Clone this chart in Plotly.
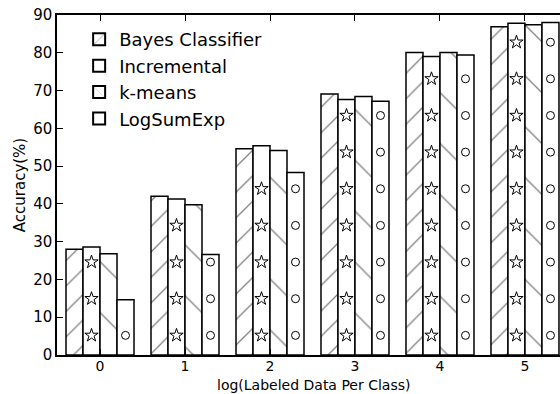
import numpy as np
import plotly.graph_objects as go

categories = [0, 1, 2, 3, 4, 5]
series_names = ["Bayes Classifier", "Incremental", "k-means", "LogSumExp"]
bayes = [28.0, 42.0, 54.6, 69.1, 80.1, 86.9]
incremental = [28.6, 41.3, 55.4, 67.6, 79.0, 87.8]
kmeans = [26.8, 39.8, 54.1, 68.4, 80.1, 87.4]
logsumexp = [14.6, 26.6, 48.3, 67.2, 79.4, 88.0]
y_ticks = [0, 10, 20, 30, 40, 50, 60, 70, 80, 90]
x_title = "log(Labeled Data Per Class)"
y_title = "Accuracy(%)"

FONT = "DejaVu Sans"
fig = go.Figure()

patterns = ["/", "", "\\", ""]
psizes = [18, 10, 36, 10]
psolid = [0.07, 0.1, 0.035, 0.1]
all_vals = [bayes, incremental, kmeans, logsumexp]
for name, vals, pat, ps, so in zip(series_names, all_vals, patterns, psizes, psolid):
    fig.add_trace(go.Bar(
        x=categories, y=vals, name=name,
        marker=dict(color="white", line=dict(color="black", width=1.5),
                    pattern=dict(shape=pat, fgcolor="black", bgcolor="white",
                                 size=ps, solidity=so, fillmode="overlay")),
    ))

# hatch-like texture for star / circle series (decorative, placed inside bars)
offsets = [-0.3, -0.1, 0.1, 0.3]
for idx, sym, msize in [(1, "star-open", 10), (3, "circle-open", 8)]:
    xs, ys = [], []
    for c, v in zip(categories, all_vals[idx]):
        for yy in np.arange(5.2, v - 2.0, 9.7):
            xs.append(c + offsets[idx])
            ys.append(yy)
    fig.add_trace(go.Scatter(
        x=xs, y=ys, mode="markers", showlegend=False, hoverinfo="skip",
        marker=dict(symbol=sym, size=msize, color="black", line=dict(width=1, color="black")),
    ))

fig.update_layout(
    width=560, height=394,
    margin=dict(l=57, r=0, t=15, b=39),
    paper_bgcolor="white", plot_bgcolor="white",
    barmode="group", bargap=0.2, bargroupgap=0,
    font=dict(family=FONT, color="black", size=15),
    legend=dict(x=0.044, y=0.982, xanchor="left", yanchor="top",
                bgcolor="rgba(255,255,255,0)", font=dict(size=18, family=FONT),
                tracegroupgap=0, itemsizing="constant"),
    showlegend=True,
    annotations=[dict(text=x_title, xref="paper", yref="paper", x=(313 - 57) / 503,
                      y=0, xanchor="center", yanchor="middle", yshift=-30, showarrow=False,
                      borderpad=0,
                      font=dict(size=14, family=FONT, color="black"))],
)
fig.update_xaxes(
    range=[-0.506, 5.412], tickmode="array", tickvals=categories,
    ticktext=[str(c) for c in categories],
    ticks="inside", ticklen=6, tickcolor="black", tickwidth=1,
    showline=True, linecolor="black", linewidth=1.5, mirror="ticks",
    showgrid=False, zeroline=False, ticklabelstandoff=-3,
    tickfont=dict(size=14, family=FONT),
)
fig.update_yaxes(
    range=[0, 90], tickmode="array", tickvals=y_ticks,
    ticks="inside", ticklen=6, tickcolor="black", tickwidth=1,
    showline=True, linecolor="black", linewidth=1.5, mirror=False,
    showgrid=False, zeroline=False,
    title=dict(text=y_title, font=dict(size=15, family=FONT), standoff=4),
    tickfont=dict(size=15, family=FONT),
)

fig.write_html("out.html")
